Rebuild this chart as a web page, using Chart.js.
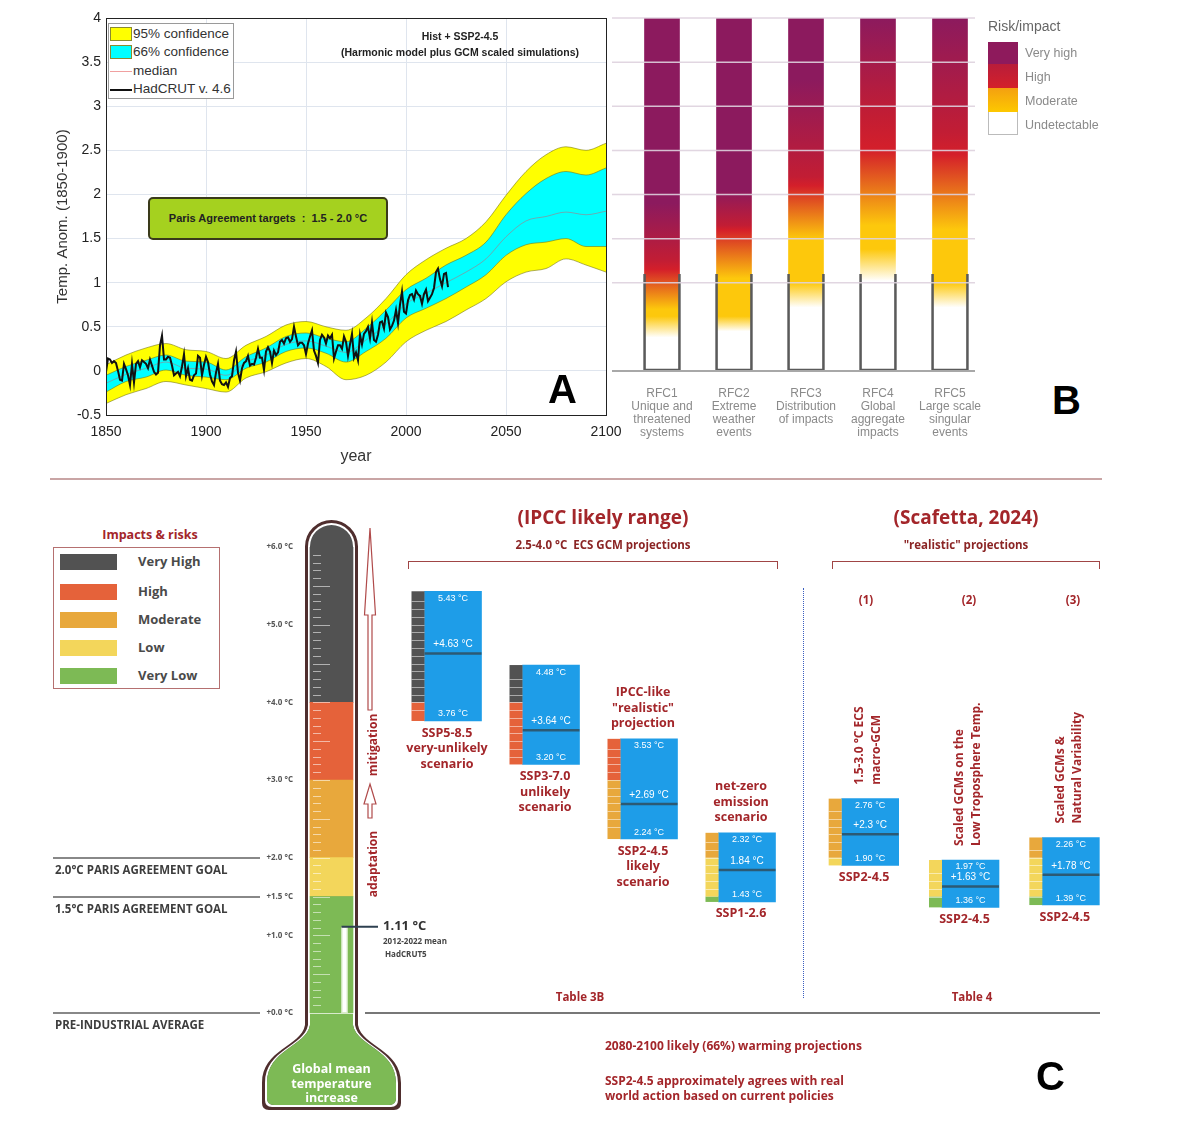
<!DOCTYPE html>
<html><head><meta charset="utf-8"><title>Temperature projections and risks</title>
<script src="https://cdn.jsdelivr.net/npm/chart.js@4.4.1/dist/chart.umd.min.js"></script>
<style>
html,body{margin:0;padding:0;background:#fff;}
#page{position:relative;width:1200px;height:1133px;overflow:hidden;font-family:"Liberation Sans",Arial,sans-serif;}
canvas{position:absolute;}
.t{position:absolute;white-space:nowrap;line-height:1;}
.c{transform:translateX(-50%);}
.red{color:#a3262a;font-family:"Open Sans",sans-serif;font-weight:700;}
.box{position:absolute;box-sizing:border-box;}
</style></head><body><div id="page">
<canvas id="cA" width="640" height="470" style="left:0;top:0"></canvas>
<canvas id="cB" width="400" height="440" style="left:612px;top:0"></canvas>
<canvas id="cT" width="250" height="620" style="left:250px;top:500px"></canvas>
<canvas id="cI" width="410" height="620" style="left:400px;top:500px"></canvas>
<canvas id="cS" width="320" height="620" style="left:810px;top:500px"></canvas>

<!-- Panel A overlays -->
<div class="box" style="left:108px;top:23px;width:126px;height:76px;border:1px solid #9a9a9a;background:#fff;"></div>
<div class="box" style="left:110px;top:27px;width:22px;height:14px;background:#ffff00;border:1px solid #8a8a30;"></div>
<div class="t" style="left:133px;top:27px;font-size:13.5px;color:#333;">95% confidence</div>
<div class="box" style="left:110px;top:45px;width:22px;height:14px;background:#00ffff;border:1px solid #8a8a30;"></div>
<div class="t" style="left:133px;top:45px;font-size:13.5px;color:#333;">66% confidence</div>
<div class="box" style="left:110px;top:71px;width:22px;height:1px;background:#f0a0a0;"></div>
<div class="t" style="left:133px;top:64px;font-size:13.5px;color:#333;">median</div>
<div class="box" style="left:110px;top:89px;width:22px;height:2px;background:#111;"></div>
<div class="t" style="left:133px;top:82px;font-size:13.5px;color:#333;">HadCRUT v. 4.6</div>
<div class="t c" style="left:460px;top:31px;font-size:10.5px;font-weight:700;color:#222;">Hist + SSP2-4.5</div>
<div class="t c" style="left:460px;top:47px;font-size:10.5px;font-weight:700;color:#222;">(Harmonic model plus GCM scaled simulations)</div>
<div class="box" style="left:148px;top:197px;width:240px;height:43px;background:#a5d11f;border:2px solid #3a3a1a;border-radius:5px;font-size:11px;font-weight:700;color:#222;text-align:center;line-height:39px;">Paris Agreement targets&nbsp;&nbsp;:&nbsp;&nbsp;1.5 - 2.0 °C</div>
<div class="t" style="left:548px;top:369px;font-size:40px;font-weight:700;color:#000;">A</div>

<!-- Panel B overlays -->
<div class="t" style="left:988px;top:19px;font-size:14px;color:#666;">Risk/impact</div>
<div class="box" style="left:988px;top:42px;width:30px;height:22px;background:#8e1a5c;"></div>
<div class="box" style="left:988px;top:64px;width:30px;height:24px;background:linear-gradient(#b81d3a,#d4202a);"></div>
<div class="box" style="left:988px;top:88px;width:30px;height:24px;background:linear-gradient(#f4a010,#fdc800);"></div>
<div class="box" style="left:988px;top:112px;width:30px;height:23px;background:#fff;border:1px solid #bbb;border-top:none;"></div>
<div class="t" style="left:1025px;top:47px;font-size:12.5px;color:#8a8a8a;">Very high</div>
<div class="t" style="left:1025px;top:71px;font-size:12.5px;color:#8a8a8a;">High</div>
<div class="t" style="left:1025px;top:95px;font-size:12.5px;color:#8a8a8a;">Moderate</div>
<div class="t" style="left:1025px;top:119px;font-size:12.5px;color:#8a8a8a;">Undetectable</div>
<div class="t" style="left:1052px;top:380px;font-size:40px;font-weight:700;color:#000;">B</div>

<div class="box" style="left:50px;top:478px;width:1052px;height:2px;background:#c9a5a5;"></div>

<!-- Panel C overlays -->
<div class="t c red" style="left:150px;top:529px;font-size:12.5px;">Impacts &amp; risks</div>
<div class="box" style="left:53px;top:547px;width:167px;height:142px;border:1.5px solid #b57070;"></div>
<div class="box" style="left:60px;top:554px;width:57px;height:16px;background:#525252;"></div>
<div class="box" style="left:60px;top:584px;width:57px;height:16px;background:#e5623a;"></div>
<div class="box" style="left:60px;top:612px;width:57px;height:16px;background:#e8a83c;"></div>
<div class="box" style="left:60px;top:640px;width:57px;height:16px;background:#f3d65b;"></div>
<div class="box" style="left:60px;top:668px;width:57px;height:16px;background:#7dba55;"></div>
<div class="t" style="left:138px;top:555px;font-size:13px;font-weight:700;color:#4a4a4a;font-family:'Open Sans',sans-serif;">Very High</div>
<div class="t" style="left:138px;top:585px;font-size:13px;font-weight:700;color:#4a4a4a;font-family:'Open Sans',sans-serif;">High</div>
<div class="t" style="left:138px;top:613px;font-size:13px;font-weight:700;color:#4a4a4a;font-family:'Open Sans',sans-serif;">Moderate</div>
<div class="t" style="left:138px;top:641px;font-size:13px;font-weight:700;color:#4a4a4a;font-family:'Open Sans',sans-serif;">Low</div>
<div class="t" style="left:138px;top:669px;font-size:13px;font-weight:700;color:#4a4a4a;font-family:'Open Sans',sans-serif;">Very Low</div>

<div class="box" style="left:53px;top:857px;width:207px;height:1.5px;background:#888;"></div>
<div class="t" style="left:55px;top:864px;font-size:11.5px;font-weight:700;color:#3d3d3d;font-family:'Open Sans',sans-serif;">2.0°C PARIS AGREEMENT GOAL</div>
<div class="box" style="left:53px;top:896px;width:207px;height:1.5px;background:#888;"></div>
<div class="t" style="left:55px;top:903px;font-size:11.5px;font-weight:700;color:#3d3d3d;font-family:'Open Sans',sans-serif;">1.5°C PARIS AGREEMENT GOAL</div>
<div class="box" style="left:53px;top:1012px;width:207px;height:1.5px;background:#888;"></div>
<div class="t" style="left:55px;top:1019px;font-size:11.5px;font-weight:700;color:#3d3d3d;font-family:'Open Sans',sans-serif;">PRE-INDUSTRIAL AVERAGE</div>

<div class="t c red" style="left:603px;top:508px;font-size:19px;">(IPCC likely range)</div>
<div class="t c red" style="left:603px;top:539px;font-size:11.5px;color:#8b2525;">2.5-4.0 °C&nbsp; ECS GCM projections</div>
<div class="box" style="left:408px;top:561px;width:370px;height:8px;border:1.5px solid #a04545;border-bottom:none;"></div>
<div class="t c red" style="left:966px;top:508px;font-size:19px;">(Scafetta, 2024)</div>
<div class="t c red" style="left:966px;top:539px;font-size:11.5px;color:#8b2525;">"realistic" projections</div>
<div class="box" style="left:832px;top:561px;width:268px;height:8px;border:1.5px solid #a04545;border-bottom:none;"></div>
<div class="t c red" style="left:866px;top:594px;font-size:11.5px;">(1)</div>
<div class="t c red" style="left:969px;top:594px;font-size:11.5px;">(2)</div>
<div class="t c red" style="left:1073px;top:594px;font-size:11.5px;">(3)</div>
<div class="box" style="left:803px;top:588px;width:0;height:410px;border-left:1.5px dotted #3a5ec0;"></div>
<div class="t c red" style="left:580px;top:991px;font-size:11.5px;">Table 3B</div>
<div class="t c red" style="left:972px;top:991px;font-size:11.5px;">Table 4</div>
<div class="box" style="left:365px;top:1012px;width:735px;height:2px;background:#777;"></div>
<div class="t red" style="left:605px;top:1040px;font-size:12px;">2080-2100 likely (66%) warming projections</div>
<div class="t red" style="left:605px;top:1075px;font-size:12px;">SSP2-4.5 approximately agrees with real</div>
<div class="t red" style="left:605px;top:1090px;font-size:12px;">world action based on current policies</div>
<div class="t" style="left:1036px;top:1056px;font-size:40px;font-weight:700;color:#000;">C</div>
</div>

<script>
// ===================== DATA =====================
// Panel A: bands (decadal), median, observations
const bandYears = [1850,1860,1870,1880,1890,1900,1910,1920,1930,1940,1950,1960,1970,1980,1990,2000,2010,2020,2030,2040,2050,2060,2070,2080,2090,2100];
const upper95 = [0.07,0.18,0.26,0.31,0.24,0.22,0.14,0.29,0.39,0.52,0.56,0.50,0.46,0.60,0.82,1.09,1.26,1.39,1.50,1.69,1.99,2.26,2.45,2.54,2.50,2.58];
const lower95 = [-0.37,-0.27,-0.20,-0.12,-0.16,-0.20,-0.24,-0.08,-0.01,0.09,0.14,0.05,-0.10,-0.05,0.10,0.33,0.46,0.56,0.69,0.82,1.01,1.12,1.16,1.27,1.20,1.12];
const upper66 = [-0.05,0.05,0.12,0.18,0.11,0.10,0.01,0.16,0.26,0.39,0.43,0.37,0.33,0.48,0.69,0.92,1.05,1.20,1.31,1.46,1.77,2.01,2.18,2.26,2.22,2.30];
const lower66 = [-0.24,-0.12,-0.07,0.01,-0.05,-0.07,-0.10,0.03,0.10,0.22,0.26,0.20,0.10,0.22,0.37,0.60,0.71,0.82,0.95,1.09,1.31,1.43,1.46,1.50,1.41,1.41];
const medianLine = [-0.14,-0.04,0.03,0.10,0.03,0.02,-0.05,0.10,0.18,0.30,0.34,0.28,0.21,0.35,0.53,0.76,0.88,1.00,1.12,1.27,1.52,1.70,1.75,1.80,1.77,1.81];
const hadcrutStartYear = 1850;
const hadcrut = [
 -0.01,0.14,0.13,0.09,0.11,0.09,0.00,-0.10,-0.11,0.08,
 0.02,-0.05,-0.16,0.08,-0.13,0.08,0.11,0.04,0.12,0.10,
 0.08,0.03,0.13,0.06,-0.01,-0.04,-0.02,0.29,0.40,0.13,
 0.13,0.16,0.15,0.06,-0.05,-0.03,-0.01,-0.06,0.05,0.19,
 -0.06,0.03,-0.10,-0.11,-0.05,-0.03,0.17,0.15,-0.05,0.07,
 0.16,0.10,-0.04,-0.12,-0.16,-0.02,0.08,-0.11,-0.15,-0.16,
 -0.13,-0.18,-0.08,-0.06,0.12,0.22,-0.02,-0.11,0.03,0.09,
 0.11,0.17,0.06,0.08,0.07,0.15,0.25,0.15,0.15,0.01,
 0.22,0.27,0.22,0.09,0.23,0.18,0.21,0.33,0.35,0.31,
 0.37,0.38,0.33,0.36,0.50,0.39,0.29,0.32,0.32,0.29,
 0.19,0.31,0.39,0.46,0.23,0.17,0.09,0.35,0.41,0.38,
 0.31,0.40,0.37,0.41,0.14,0.22,0.29,0.29,0.25,0.39,
 0.33,0.17,0.30,0.42,0.15,0.21,0.12,0.41,0.30,0.42,
 0.45,0.50,0.37,0.55,0.35,0.33,0.41,0.55,0.56,0.48,
 0.66,0.61,0.47,0.51,0.57,0.69,0.54,0.75,0.90,0.67,
 0.65,0.80,0.86,0.87,0.81,0.91,0.87,0.85,0.76,0.87,
 0.92,0.79,0.83,0.87,0.94,1.12,1.16,1.04,0.96,1.10,
 1.11,0.95];
const xTickStep = 50;
const yTickStep = 0.5;

// Panel B: reasons for concern (burning embers), transition temperatures
const rfcLabels = [["RFC1","Unique and","threatened","systems"],["RFC2","Extreme","weather","events"],["RFC3","Distribution","of impacts"],["RFC4","Global","aggregate","impacts"],["RFC5","Large scale","singular","events"]];
const rfcTop = [4,4,4,4,4];
const rfcObserved = [1.1,1.1,1.1,1.1,1.1];
const rfcWhiteEnd = [0.38,0.45,0.72,1.02,0.72];
const rfcYellowStart = [0.62,0.62,1.00,1.38,1.00];
const rfcYellowEnd = [0.70,1.05,1.50,1.65,1.60];
const rfcRedStart = [1.15,1.60,2.10,2.50,2.45];
const rfcRedEnd = [1.25,1.65,2.20,2.90,2.70];
const rfcPurpleStart = [1.90,2.05,3.30,4.00,4.00];

// Panel C: risk levels and projections (2080-2100 likely ranges)
const riskNames = ["Very Low","Low","Moderate","High","Very High"];
const riskLows = [0,1.5,2,3,4];
const riskHighs = [1.5,2,3,4,6];
const thermoTicks = [0,1,1.5,2,3,4,5,6];
const observedMean = 1.11;
const ipccNames = ["SSP5-8.5","SSP3-7.0","SSP2-4.5","SSP1-2.6"];
const ipccLow = [3.76,3.20,2.24,1.43];
const ipccHigh = [5.43,4.48,3.53,2.32];
const ipccMedian = [4.63,3.64,2.69,1.84];
const ipccMedianSigned = [true,true,true,false];
const ipccBelow = [["SSP5-8.5","very-unlikely","scenario"],["SSP3-7.0","unlikely","scenario"],["SSP2-4.5","likely","scenario"],["SSP1-2.6"]];
const ipccAbove = [[],[],["IPCC-like","\"realistic\"","projection"],["net-zero","emission","scenario"]];
const scafNames = ["(1)","(2)","(3)"];
const scafLow = [1.90,1.36,1.39];
const scafHigh = [2.76,1.97,2.26];
const scafMedian = [2.3,1.63,1.78];
const scafMedianSigned = [true,true,true];
const scafBelow = [["SSP2-4.5"],["SSP2-4.5"],["SSP2-4.5"]];
const scafRotated = [["1.5-3.0 °C ECS","macro-GCM"],["Scaled GCMs on the","Low Troposphere Temp."],["Scaled GCMs &","Natural Variability"]];

// ===================== STYLE =====================
const riskColors = ["#7dba55","#f3d65b","#e8a83c","#e5623a","#525252"];
const SANS = '"Liberation Sans", Arial, sans-serif';
const OPEN = '"Open Sans", sans-serif';
Chart.defaults.font.family = SANS;
Chart.defaults.animation = false;
Chart.defaults.plugins.legend.display = false;
Chart.defaults.plugins.tooltip.enabled = false;

// ===================== PANEL A =====================
const bandPts = arr => arr.map((v,i)=>({x:bandYears[i], y:v}));
const edge = 'rgba(120,120,20,0.75)';
new Chart(document.getElementById('cA'), {
  type:'line',
  data:{datasets:[
    {label:'HadCRUT v. 4.6', data:hadcrut.map((v,i)=>({x:hadcrutStartYear+i, y:v})), borderColor:'#111', borderWidth:2, pointRadius:0, fill:false, tension:0},
    {label:'median', data:bandPts(medianLine), borderColor:'rgba(170,120,130,0.6)', borderWidth:1, pointRadius:0, fill:false, cubicInterpolationMode:'monotone'},
    {label:'66% confidence', data:bandPts(upper66), borderColor:edge, borderWidth:0.8, backgroundColor:'#00ffff', fill:'+1', pointRadius:0, cubicInterpolationMode:'monotone'},
    {label:'66% lower', data:bandPts(lower66), borderColor:edge, borderWidth:0.8, fill:false, pointRadius:0, cubicInterpolationMode:'monotone'},
    {label:'95% confidence', data:bandPts(upper95), borderColor:edge, borderWidth:0.8, backgroundColor:'#ffff00', fill:'+1', pointRadius:0, cubicInterpolationMode:'monotone'},
    {label:'95% lower', data:bandPts(lower95), borderColor:edge, borderWidth:0.8, fill:false, pointRadius:0, cubicInterpolationMode:'monotone'}
  ]},
  options:{
    responsive:false, devicePixelRatio:1,
    layout:{padding:{top:18,right:34,left:50,bottom:0}},
    plugins:{filler:{drawTime:'beforeDatasetsDraw'}},
    scales:{
      x:{type:'linear', min:1850, max:2100,
         ticks:{stepSize:xTickStep, font:{size:14}, color:'#222', padding:9, callback:v=>String(v)},
         grid:{color:'#dfe5ee', drawTicks:false}, border:{color:'#222'},
         title:{display:true, text:'year', font:{size:16}, color:'#333', padding:{top:4}},
         afterFit:s=>{s.height=55;}},
      y:{type:'linear', min:-0.5, max:4,
         ticks:{stepSize:yTickStep, font:{size:14}, color:'#222', padding:5, callback:v=>String(Math.round(v*10)/10)},
         grid:{color:'#dfe5ee', drawTicks:false}, border:{color:'#222'},
         title:{display:true, text:'Temp. Anom. (1850-1900)', font:{size:15}, color:'#333', padding:{bottom:2}},
         afterFit:s=>{s.width=56;}}
    }
  },
  plugins:[{id:'frameA', afterDatasetsDraw(chart){
    const c=chart.ctx, a=chart.chartArea;
    c.save(); c.strokeStyle='#222'; c.lineWidth=1;
    c.strokeRect(Math.round(a.left)+0.5, Math.round(a.top)+0.5, Math.round(a.right-a.left), Math.round(a.bottom-a.top));
    c.restore();
  }}]
});

// ===================== PANEL B =====================
function emberGradient(ctx){
  if (ctx.type !== 'data') return '#ffffff';
  const chart = ctx.chart; const ys = chart.scales.y;
  if (!chart.chartArea || !ys) return '#ffffff';
  const i = ctx.dataIndex;
  const g = chart.ctx.createLinearGradient(0, ys.getPixelForValue(0), 0, ys.getPixelForValue(4));
  const stops = [[0,'#ffffff'],[rfcWhiteEnd[i],'#ffffff'],[rfcYellowStart[i],'#fdc80c'],[rfcYellowEnd[i],'#fdc80c'],
                 [rfcRedStart[i],'#d41f2a'],[rfcRedEnd[i],'#c21d34'],[rfcPurpleStart[i],'#8c1a5e'],[4,'#8c1a5e']];
  stops.forEach(([t,col])=>g.addColorStop(Math.max(0,Math.min(1,t/4)), col));
  return g;
}
new Chart(document.getElementById('cB'), {
  type:'bar',
  data:{labels:rfcLabels, datasets:[
    {label:'Observed level', data:rfcObserved.map(v=>[0,v]), backgroundColor:'rgba(0,0,0,0)', borderColor:'#5a5a5a',
     borderWidth:{left:2,right:2,top:0,bottom:2}, borderSkipped:false, grouped:false, barThickness:37},
    {label:'Risk', data:rfcTop, backgroundColor:emberGradient, borderWidth:0, grouped:false, barThickness:35}
  ]},
  options:{
    responsive:false, devicePixelRatio:1,
    layout:{padding:{top:18,right:26,left:14,bottom:0}},
    scales:{
      x:{ticks:{font:{size:12, lineHeight:1.08}, color:'#8a8a8a', padding:8, autoSkip:false, maxRotation:0},
         grid:{display:false}, border:{display:false}, afterFit:s=>{s.height=69;}},
      y:{display:false, min:0, max:4}
    }
  },
  plugins:[{id:'gridB', afterDatasetsDraw(chart){
    const c=chart.ctx, ys=chart.scales.y;
    c.save();
    c.strokeStyle='rgba(222,210,222,0.9)'; c.lineWidth=1.5;
    [1,1.5,2,2.5,3,3.5,4].forEach(v=>{const y=ys.getPixelForValue(v); c.beginPath(); c.moveTo(0,y); c.lineTo(363,y); c.stroke();});
    c.strokeStyle='#a8a8a8'; c.lineWidth=2;
    const y0=ys.getPixelForValue(0); c.beginPath(); c.moveTo(0,y0); c.lineTo(363,y0); c.stroke();
    c.restore();
  }}]
});

// ===================== PANEL C: thermometer =====================
function tubePath(c, cx, topY, y0, o){
  const ow=26.5, L=cx-ow+o, R=cx+ow-o, r=ow-o, top=topY+o;
  const stemB=y0+12, bL=cx-69.5+o, bR=cx+69.5-o, bT=y0+64, bot=y0+97-o;
  c.beginPath();
  c.moveTo(L, stemB);
  c.lineTo(L, top+r);
  c.arc(cx, top+r, r, Math.PI, 0);
  c.lineTo(R, stemB);
  c.bezierCurveTo(R+4, stemB+22, bR, bT-28, bR, bT+6);
  c.lineTo(bR, bot-7);
  c.quadraticCurveTo(bR, bot, bR-7, bot);
  c.lineTo(bL+7, bot);
  c.quadraticCurveTo(bL, bot, bL, bot-7);
  c.lineTo(bL, bT+6);
  c.bezierCurveTo(bL, bT-28, L-4, stemB+22, L, stemB);
  c.closePath();
}
function outlineArrow(c, x, tipY, baseY, tailY, hw, sw){
  c.beginPath();
  c.moveTo(x, tipY);
  c.lineTo(x+hw, baseY); c.lineTo(x+sw, baseY); c.lineTo(x+sw, tailY);
  c.lineTo(x-sw, tailY); c.lineTo(x-sw, baseY); c.lineTo(x-hw, baseY);
  c.closePath(); c.stroke();
}
const thermoPlugin = {
  id:'thermo',
  beforeDatasetsDraw(chart){
    const c=chart.ctx, a=chart.chartArea, ys=chart.scales.y;
    const cx=(a.left+a.right)/2, y0=ys.getPixelForValue(0), topY=ys.getPixelForValue(6)-27;
    c.save();
    tubePath(c,cx,topY,y0,0); c.fillStyle='#4f2e2e'; c.fill();
    tubePath(c,cx,topY,y0,3); c.fillStyle='#ffffff'; c.fill();
    tubePath(c,cx,topY,y0,5); c.fillStyle=riskColors[4]; c.fill();
    c.save(); tubePath(c,cx,topY,y0,5); c.clip();
    c.fillStyle=riskColors[0]; c.fillRect(0,y0,chart.width,200);
    c.restore();
    c.restore();
  },
  afterDatasetsDraw(chart){
    const c=chart.ctx, a=chart.chartArea, ys=chart.scales.y;
    const cx=(a.left+a.right)/2, y0=ys.getPixelForValue(0), L=cx-21.5;
    c.save();
    c.strokeStyle='rgba(255,255,255,0.55)'; c.lineWidth=1;
    for(let k=1;k<60;k++){
      const y=Math.round(ys.getPixelForValue(k/10))+0.5;
      c.beginPath(); c.moveTo(L+3,y); c.lineTo(L+(k%5===0?20:11),y); c.stroke();
    }
    c.strokeStyle='rgba(255,255,255,0.7)'; c.beginPath(); c.moveTo(L,y0+0.5); c.lineTo(L+43,y0+0.5); c.stroke();
    const ym=ys.getPixelForValue(observedMean);
    c.fillStyle='#ffffff'; c.fillRect(cx+10, ym, 6, y0-ym);
    c.strokeStyle='#d8ecc8'; c.lineWidth=1; c.strokeRect(cx+10.5, ym+0.5, 5, y0-ym-1);
    c.strokeStyle='#2e4050'; c.lineWidth=2; c.beginPath(); c.moveTo(cx+10,ym); c.lineTo(128,ym); c.stroke();
    c.fillStyle='#333'; c.textAlign='left'; c.textBaseline='middle';
    c.font='bold 13px '+OPEN; c.fillText(observedMean.toFixed(2)+' °C', 133, ym);
    c.font='bold 8px '+OPEN; c.fillStyle='#444';
    c.fillText('2012-2022 mean', 133, ym+15); c.fillText('HadCRUT5', 135, ym+28);
    c.fillStyle='#ffffff'; c.textAlign='center'; c.font='bold 12.5px '+OPEN;
    c.fillText('Global mean', cx, y0+56); c.fillText('temperature', cx, y0+71); c.fillText('increase', cx, y0+85);
    c.strokeStyle='#b04a4a'; c.lineWidth=1.2;
    outlineArrow(c, 120, 28, 115, 210, 5.5, 2);
    outlineArrow(c, 120, 284, 304, 318, 6, 2);
    c.fillStyle='#a3262a'; c.font='bold 12px '+OPEN;
    [['mitigation',245],['adaptation',364]].forEach(([t,y])=>{
      c.save(); c.translate(124,y); c.rotate(-Math.PI/2); c.textAlign='center'; c.fillText(t,0,0); c.restore();
    });
    c.restore();
  }
};
new Chart(document.getElementById('cT'), {
  type:'bar',
  data:{labels:['Global mean temperature increase'], datasets:riskNames.map((n,k)=>({
    label:n, data:[[riskLows[k], riskHighs[k]]], backgroundColor:riskColors[k], borderWidth:0, grouped:false, barThickness:43
  }))},
  options:{
    responsive:false, devicePixelRatio:1,
    layout:{autoPadding:false, padding:{top:47,bottom:107,left:0,right:143}},
    scales:{
      x:{display:false},
      y:{min:0, max:6, grid:{display:false}, border:{display:false},
         afterBuildTicks:s=>{s.ticks=thermoTicks.map(v=>({value:v}));},
         ticks:{font:{size:8, weight:'bold', family:OPEN}, color:'#555', padding:5, callback:v=>'+'+Number(v).toFixed(1)+' °C'},
         afterFit:s=>{s.width=56;}}
    }
  },
  plugins:[thermoPlugin]
});

// ===================== PANEL C: projections =====================
function projPlugin(lows, highs, meds, signed, below, above, rotated){
  return {id:'projDeco', afterDatasetsDraw(chart){
    const c=chart.ctx, ys=chart.scales.y, meta=chart.getDatasetMeta(1);
    const py=v=>ys.getPixelForValue(v);
    meta.data.forEach((el,i)=>{
      const lo=lows[i], hi=highs[i], bl=el.x-el.width/2, sw=13, sx=bl-sw;
      c.save();
      riskLows.forEach((rl,k)=>{
        const a=Math.max(lo,rl), b=Math.min(hi,riskHighs[k]);
        if(b>a){ c.fillStyle=riskColors[k]; c.fillRect(sx, py(b), sw, py(a)-py(b)); }
      });
      c.strokeStyle='rgba(255,255,255,0.5)'; c.lineWidth=1;
      for(let k=Math.ceil(lo*10)+1;k<Math.floor(hi*10);k++){
        const y=Math.round(py(k/10))+0.5; c.beginPath(); c.moveTo(sx,y); c.lineTo(bl,y); c.stroke();
      }
      c.fillStyle='#ffffff'; c.textAlign='center'; c.textBaseline='middle';
      c.font='9px '+SANS;
      c.fillText(hi.toFixed(2)+' °C', el.x, py(hi)+7);
      c.fillText(lo.toFixed(2)+' °C', el.x, py(lo)-7);
      c.font='10px '+SANS;
      c.fillText((signed[i]?'+':'')+meds[i]+' °C', el.x, py(meds[i])-9);
      c.fillStyle='#a3262a'; c.font='bold 12.5px '+OPEN;
      const gx=el.x-6;
      (below[i]||[]).forEach((t,j)=>c.fillText(t, gx, py(lo)+12+j*15.5));
      const ab=(above&&above[i])||[];
      ab.forEach((t,j)=>c.fillText(t, gx, py(hi)-15-(ab.length-1-j)*15.5));
      const rot=(rotated&&rotated[i])||[];
      if(rot.length){
        c.save(); c.translate(el.x-2, py(hi)-14); c.rotate(-Math.PI/2); c.textAlign='left'; c.font='bold 12px '+OPEN;
        rot.forEach((t,j)=>c.fillText(t, 0, (j-(rot.length-1)/2)*17));
        c.restore();
      }
      c.restore();
    });
  }};
}
function projChart(id, names, lows, highs, meds, signed, below, above, rotated, padL, padR){
  return new Chart(document.getElementById(id), {
    type:'bar',
    data:{labels:names, datasets:[
      {type:'line', label:'median', data:meds, showLine:false, pointStyle:'line', pointRadius:28.5,
       pointBorderColor:'#2c5a74', pointBorderWidth:2.5, pointBackgroundColor:'#2c5a74'},
      {type:'bar', label:'likely range', data:lows.map((v,i)=>[v, highs[i]]), backgroundColor:'#1e9de8',
       borderWidth:0, grouped:false, barThickness:57}
    ]},
    options:{
      responsive:false, devicePixelRatio:1,
      layout:{autoPadding:false, padding:{top:47,bottom:107,left:padL,right:padR}},
      scales:{x:{display:false}, y:{display:false, min:0, max:6}}
    },
    plugins:[projPlugin(lows, highs, meds, signed, below, above, rotated)]
  });
}
projChart('cI', ipccNames, ipccLow, ipccHigh, ipccMedian, ipccMedianSigned, ipccBelow, ipccAbove, null, 4, 14);
projChart('cS', scafNames, scafLow, scafHigh, scafMedian, scafMedianSigned, scafBelow, null, scafRotated, 10, 9);
</script>
</body></html>
